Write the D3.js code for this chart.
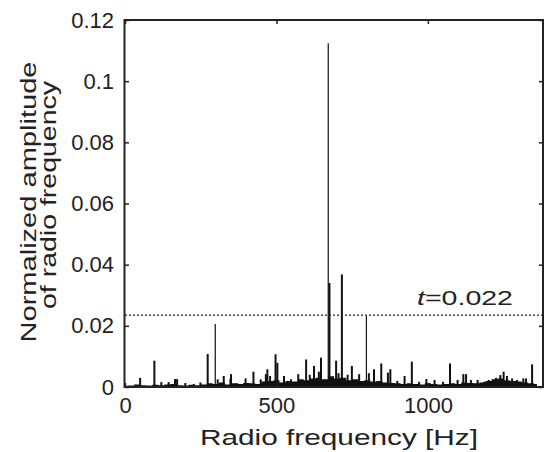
<!DOCTYPE html>
<html>
<head>
<meta charset="utf-8">
<script src="https://cdn.jsdelivr.net/npm/d3@7"></script>
<style>
	body { margin: 0; background: #fff; }
	text { font-family: "Liberation Sans", Arial, sans-serif; fill: #222; }
</style>
</head>
<body>
<div id="chart"></div>
<script>
// Spike frequencies [Hz] and normalized amplitudes
var spikeFreq = [50, 97, 120, 144, 165, 172, 199, 227, 249, 273, 298, 306, 326, 348,
	350, 371, 398, 424, 448, 465, 470, 479, 497, 503, 525, 548, 572, 598, 610, 624, 640, 647,
	671, 675, 697, 705, 716, 735, 749, 773, 797, 805, 822, 846, 868, 876, 899, 923, 947,
	971, 995, 1022, 1050, 1073, 1098, 1117, 1126, 1142, 1164, 1186, 1201, 1225, 1239,
	1250, 1261, 1278, 1294, 1315, 1324, 1344];
var spikeAmp = [0.0030, 0.0086, 0.0016, 0.0016, 0.0026, 0.0026, 0.0013, 0.0010, 0.0015, 0.0108, 0.0206, 0.0025, 0.0036, 0.0026,
	0.0042, 0.0012, 0.0028, 0.0050, 0.0025, 0.0042, 0.0058, 0.0036, 0.0107, 0.0079, 0.0036, 0.0025, 0.0042, 0.0090, 0.0040, 0.0069, 0.0050, 0.0096,
	0.1124, 0.0340, 0.0086, 0.0045, 0.0368, 0.0040, 0.0069, 0.0042, 0.0232, 0.0045, 0.0058, 0.0077, 0.0047, 0.0058, 0.0020, 0.0036, 0.0083,
	0.0017, 0.0026, 0.0023, 0.0017, 0.0077, 0.0023, 0.0042, 0.0042, 0.0023, 0.0023, 0.0017, 0.0023, 0.0030, 0.0039,
	0.0050, 0.0036, 0.0028, 0.0023, 0.0028, 0.0028, 0.0074];

// Background level of the spectrum, read every 20 Hz
var floorFreq = d3.range(0, 1380, 20);
var floorAmp = [0.0004, 0.0005, 0.0008, 0.0006, 0.0005, 0.0007, 0.0006, 0.0008, 0.0010, 0.0006, 0.0005, 0.0007,
	0.0006, 0.0008, 0.0012, 0.0010, 0.0015, 0.0008, 0.0012, 0.0010, 0.0013, 0.0012, 0.0010, 0.0018,
	0.0020, 0.0022, 0.0015, 0.0020, 0.0018, 0.0025, 0.0022, 0.0028, 0.0030, 0.0025, 0.0035, 0.0028,
	0.0030, 0.0022, 0.0025, 0.0020, 0.0022, 0.0018, 0.0020, 0.0015, 0.0013, 0.0012, 0.0010, 0.0012,
	0.0010, 0.0008, 0.0012, 0.0010, 0.0008, 0.0010, 0.0012, 0.0010, 0.0015, 0.0013, 0.0012, 0.0015,
	0.0020, 0.0025, 0.0028, 0.0022, 0.0020, 0.0018, 0.0015, 0.0012, 0.0010];

var xTicks = [0, 500, 1000];
var yTicks = [0, 0.02, 0.04, 0.06, 0.08, 0.1, 0.12];
var threshold = 0.0235;
var thresholdLabel = "0.022";

function spectrumChart() {
	var width = 546,
			height = 452,
			plot = {left: 125, right: 543, top: 20, bottom: 387};

	var xScale = d3.scaleLinear().domain([0, 1380]).range([plot.left, plot.right]),
			yScale = d3.scaleLinear().domain([0, 0.12]).range([plot.bottom, plot.top]);

	var svg = d3.select("#chart").append("svg")
			.attr("width", width)
			.attr("height", height);

	// Background level
	var floorData = floorFreq.map(function(f, i) { return {f: f, a: floorAmp[i]}; });
	var area = d3.area()
			.curve(d3.curveStep)
			.x(function(d) { return xScale(d.f); })
			.y0(yScale(0))
			.y1(function(d) { return yScale(d.a); });
	svg.append("path")
			.datum(floorData)
			.attr("d", area)
			.style("fill", "#111");

	// Spikes
	var spikes = spikeFreq.map(function(f, i) { return {f: f, a: spikeAmp[i]}; });
	svg.append("g").attr("class", "spikes")
		.selectAll("line")
			.data(spikes)
		.enter().append("line")
			.attr("x1", function(d) { return xScale(d.f); })
			.attr("x2", function(d) { return xScale(d.f); })
			.attr("y1", yScale(0))
			.attr("y2", function(d) { return yScale(d.a); })
			.style("stroke", "#111")
			.style("stroke-width", function(d) { return d.a > 0.015 && d.a < 0.03 || d.a > 0.1 ? 1.2 : 2; });

	// Threshold line
	svg.append("line")
			.attr("x1", plot.left)
			.attr("x2", plot.right)
			.attr("y1", yScale(threshold))
			.attr("y2", yScale(threshold))
			.style("stroke", "#222")
			.style("stroke-width", 1.2)
			.style("stroke-dasharray", "2,2");

	var tLabel = svg.append("text")
			.attr("x", 417)
			.attr("y", yScale(threshold) - 10)
			.attr("textLength", 96)
			.attr("lengthAdjust", "spacingAndGlyphs")
			.style("font-size", "21px");
	tLabel.append("tspan").style("font-style", "italic").text("t");
	tLabel.append("tspan").text("=" + thresholdLabel);

	// Axes: MATLAB-style box with inward ticks
	var tickLen = -4;
	svg.append("g")
			.attr("transform", "translate(0," + plot.bottom + ")")
			.call(d3.axisBottom(xScale).tickValues(xTicks).tickSizeInner(tickLen).tickSizeOuter(0).tickPadding(10)
				.tickFormat(d3.format("d")));
	svg.append("g")
			.attr("transform", "translate(0," + plot.top + ")")
			.call(d3.axisTop(xScale).tickValues(xTicks).tickSizeInner(tickLen).tickSizeOuter(0).tickFormat(""));
	svg.append("g")
			.attr("transform", "translate(" + plot.left + ",0)")
			.call(d3.axisLeft(yScale).tickValues(yTicks).tickSizeInner(tickLen).tickSizeOuter(0).tickPadding(11)
				.tickFormat(function(d) { return d === 0 ? "0" : d3.format("")(+d.toFixed(2)); }));
	svg.append("g")
			.attr("transform", "translate(" + plot.right + ",0)")
			.call(d3.axisRight(yScale).tickValues(yTicks).tickSizeInner(tickLen).tickSizeOuter(0).tickFormat(""));

	svg.selectAll(".domain").remove();
	svg.selectAll(".tick line").style("stroke", "#222").style("stroke-width", 1.5);
	svg.selectAll(".tick text")
			.style("font-family", "'Liberation Sans', Arial, sans-serif")
			.style("font-size", "22px")
			.style("fill", "#222");

	// Frame
	svg.append("rect")
			.attr("x", plot.left - 0.5)
			.attr("y", plot.top)
			.attr("width", plot.right - plot.left + 0.5)
			.attr("height", plot.bottom - plot.top)
			.style("fill", "none")
			.style("stroke", "#222")
			.style("stroke-width", 2);

	// Axis titles
	svg.append("text")
			.attr("x", 339)
			.attr("y", 445)
			.attr("text-anchor", "middle")
			.attr("textLength", 278)
			.attr("lengthAdjust", "spacingAndGlyphs")
			.style("font-size", "22px")
			.text("Radio frequency [Hz]");

	svg.append("text")
			.attr("transform", "translate(36,202) rotate(-90)")
			.attr("text-anchor", "middle")
			.attr("textLength", 281)
			.attr("lengthAdjust", "spacingAndGlyphs")
			.style("font-size", "22px")
			.text("Normalized amplitude");

	svg.append("text")
			.attr("transform", "translate(56,195) rotate(-90)")
			.attr("text-anchor", "middle")
			.attr("textLength", 228)
			.attr("lengthAdjust", "spacingAndGlyphs")
			.style("font-size", "22px")
			.text("of radio frequency");
}

spectrumChart();
</script>
</body>
</html>
